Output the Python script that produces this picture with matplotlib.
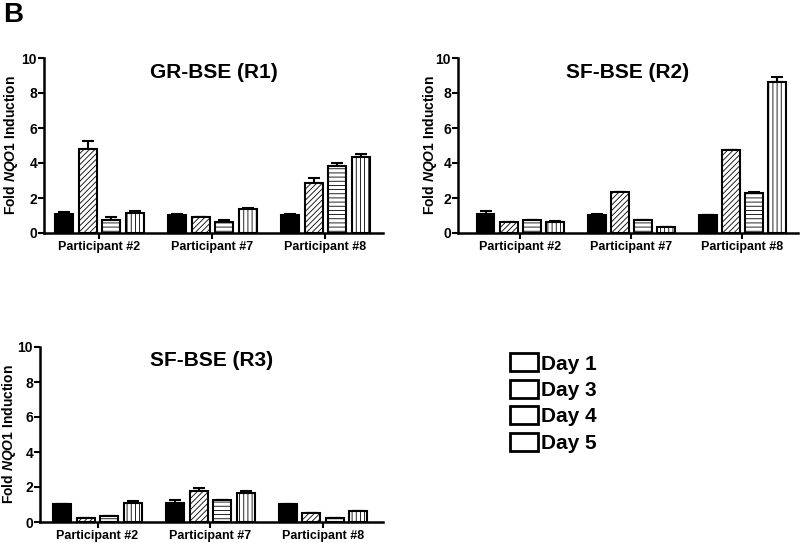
import matplotlib
matplotlib.use("Agg")
import matplotlib.pyplot as plt
import numpy as np
from matplotlib.patches import Patch

plt.rcParams['font.family'] = 'Liberation Sans'
plt.rcParams['font.weight'] = 'bold'
plt.rcParams['mathtext.fontset'] = 'custom'
plt.rcParams['mathtext.it'] = 'Liberation Sans:italic:bold'
plt.rcParams['mathtext.rm'] = 'Liberation Sans:bold'
plt.rcParams['hatch.linewidth'] = 0.6

participants = ['Participant #2', 'Participant #7', 'Participant #8']
days = ['Day 1', 'Day 3', 'Day 4', 'Day 5']
hatches = ['', '//////', '----', '||||']

# fold NQO1 induction, rows = days, columns = participants
r1_vals = [[1.08, 1.05, 1.05],
           [4.78, 0.91, 2.86],
           [0.76, 0.65, 3.85],
           [1.14, 1.39, 4.34]]
r1_err = [[0.12, 0.02, 0.02],
          [0.50, 0.02, 0.28],
          [0.14, 0.07, 0.15],
          [0.10, 0.04, 0.19]]

r2_vals = [[1.07, 1.05, 1.01],
           [0.63, 2.33, 4.76],
           [0.72, 0.76, 2.31],
           [0.61, 0.32, 8.62]]
r2_err = [[0.19, 0.05, 0.0],
          [0.0, 0.0, 0.0],
          [0.05, 0.0, 0.04],
          [0.06, 0.04, 0.29]]

r3_vals = [[1.04, 1.08, 1.04],
           [0.21, 1.77, 0.51],
           [0.34, 1.27, 0.25],
           [1.10, 1.67, 0.65]]
r3_err = [[0.0, 0.15, 0.0],
          [0.0, 0.20, 0.0],
          [0.0, 0.0, 0.0],
          [0.08, 0.13, 0.0]]

titles = ['GR-BSE (R1)', 'SF-BSE (R2)', 'SF-BSE (R3)']

W, H = 800, 543
fig = plt.figure(figsize=(8, 5.43), dpi=100)


def make_ax(left, right, top, bottom):
    return fig.add_axes([left / W, 1 - bottom / H, (right - left) / W, (bottom - top) / H])


def draw_panel(ax, vals, errs, title, xlim, label_x):
    x = np.arange(len(participants))
    width = 0.16
    step = 0.208
    for i in range(len(days)):
        pos = x + (i - 1.5) * step
        fc = 'black' if i == 0 else 'white'
        ax.bar(pos, vals[i], width, color=fc, edgecolor='black',
               linewidth=1.5, hatch=hatches[i], zorder=2)
        e = np.array(errs[i])
        ax.errorbar(pos, vals[i], yerr=[np.zeros_like(e), e], fmt='none',
                    ecolor='black', elinewidth=1.5, capsize=4, capthick=1.5, zorder=1)
    ax.set_xlim(*xlim)
    ax.set_ylim(0, 10)
    ax.set_yticks([0, 2, 4, 6, 8, 10])
    ax.set_xticks(x)
    ax.set_xticklabels(participants, fontsize=9, fontweight='bold')
    ax.tick_params(axis='y', labelsize=10, width=1.5, length=4, pad=1)
    ax.tick_params(axis='x', width=1.5, length=4, pad=2)
    for s in ['top', 'right']:
        ax.spines[s].set_visible(False)
    for s in ['left', 'bottom']:
        ax.spines[s].set_linewidth(1.8)
    ax.set_ylabel(r'Fold $\mathit{NQO1}$ Induction', fontsize=10, fontweight='bold')
    ax.yaxis.set_label_coords(label_x, 0.5)
    ax.text(0.5, 0.92, title, transform=ax.transAxes, ha='center', va='center',
            fontsize=15, fontweight='bold')


ax1 = make_ax(44, 383, 58, 233)
draw_panel(ax1, r1_vals, r1_err, titles[0], (-0.49, 2.51), (20 - 44) / 339)

ax2 = make_ax(458, 798, 58, 233)
draw_panel(ax2, r2_vals, r2_err, titles[1], (-0.56, 2.5), (439 - 458) / 340)

ax3 = make_ax(40, 383, 347, 522)
draw_panel(ax3, r3_vals, r3_err, titles[2], (-0.51, 2.53), (18 - 40) / 343)

handles = [Patch(facecolor='white', edgecolor='black', linewidth=2) for _ in days]
fig.legend(handles, days, loc='upper left', bbox_to_anchor=(500 / W, 1 - 343 / H),
           frameon=False, handlelength=1.3, handleheight=0.95,
           labelspacing=0.3, handletextpad=0.15, borderpad=0,
           prop={'weight': 'bold', 'size': 15})

fig.text(3 / W, 1 - 2 / H, 'B', fontsize=20, fontweight='bold', va='top', ha='left')

fig.savefig('out.png', dpi=100)
